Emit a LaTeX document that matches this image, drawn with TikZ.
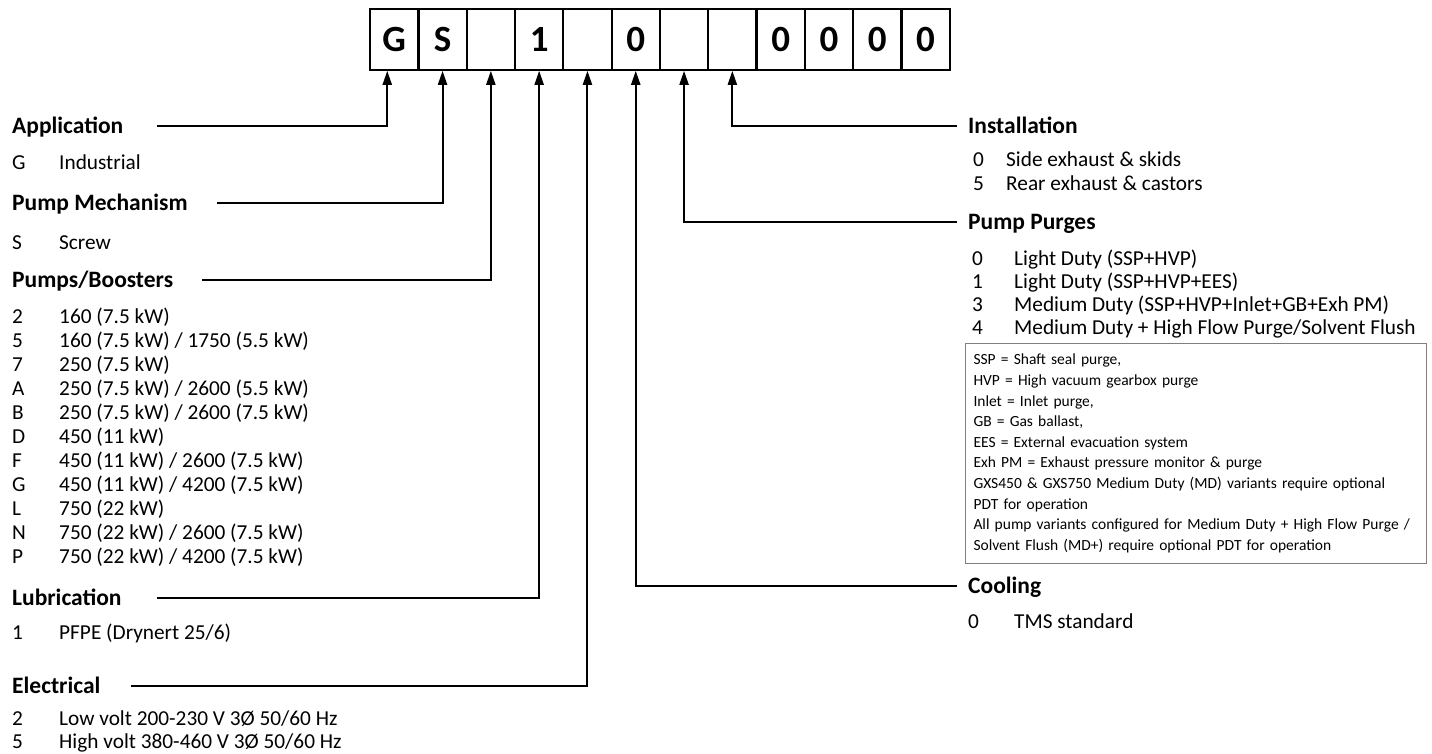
\documentclass[tikz,border=0pt]{standalone}
\usepackage{fontspec}
\setmainfont{Carlito}
\usetikzlibrary{arrows.meta,calc}
\begin{document}
\begin{tikzpicture}[x=1pt,y=-1pt,
  cell/.style={draw, line width=2.2pt, minimum width=48.3pt, minimum height=61pt, inner sep=0pt,
    font=\fontsize{37}{42}\selectfont\bfseries, anchor=north west},
  head/.style={anchor=west, inner sep=0pt, text height=15.1pt, text depth=0pt,
    font=\fontsize{23.5}{28}\selectfont\bfseries},
  item/.style={anchor=west, inner sep=0pt, text height=13.7pt, text depth=0pt,
    font=\fontsize{21.3}{25}\selectfont},
  conn/.style={line width=2pt, -{Triangle[length=14pt,width=9pt]}},
  notebox/.style={draw=black!50, line width=1pt, anchor=north west, minimum width=461pt,
    minimum height=220pt, text width=445pt, inner xsep=8pt, align=left,
    font=\fontsize{15.5}{20.6}\selectfont}
]
\useasboundingbox (0,0) rectangle (1432,754);

% code cells
\node[cell] (c1) at (369.0,7.6) {G};
\node[cell] (c2) at (417.3,7.6) {S};
\node[cell] (c3) at (465.6,7.6) {};
\node[cell] (c4) at (513.9,7.6) {1};
\node[cell] (c5) at (562.2,7.6) {};
\node[cell] (c6) at (610.5,7.6) {0};
\node[cell] (c7) at (658.8,7.6) {};
\node[cell] (c8) at (707.1,7.6) {};
\node[cell] (c9) at (755.4,7.6) {0};
\node[cell] (c10) at (803.7,7.6) {0};
\node[cell] (c11) at (852.0,7.6) {0};
\node[cell] (c12) at (900.3,7.6) {0};

% ---------- left column ----------
\node[head] (app) at (12,126) {Application};
\node[item] (appk1) at (12,163) {G};
\node[item] (appt1) at (59,163) {Industrial};

\node[head] (mech) at (12,203) {Pump Mechanism};
\node[item] (mechk1) at (12,243) {S};
\node[item] (mecht1) at (59,243) {Screw};

\node[head] (pumps) at (12,280) {Pumps/Boosters};
\node[item] (pk1) at (12,317) {2};  \node[item] (pt1) at (59,317) {160 (7.5 kW)};
\node[item] (pk2) at (12,341) {5};  \node[item] (pt2) at (59,341) {160 (7.5 kW) / 1750 (5.5 kW)};
\node[item] (pk3) at (12,365) {7};  \node[item] (pt3) at (59,365) {250 (7.5 kW)};
\node[item] (pk4) at (12,389) {A};  \node[item] (pt4) at (59,389) {250 (7.5 kW) / 2600 (5.5 kW)};
\node[item] (pk5) at (12,413) {B};  \node[item] (pt5) at (59,413) {250 (7.5 kW) / 2600 (7.5 kW)};
\node[item] (pk6) at (12,437) {D};  \node[item] (pt6) at (59,437) {450 (11 kW)};
\node[item] (pk7) at (12,461) {F};  \node[item] (pt7) at (59,461) {450 (11 kW) / 2600 (7.5 kW)};
\node[item] (pk8) at (12,485) {G};  \node[item] (pt8) at (59,485) {450 (11 kW) / 4200 (7.5 kW)};
\node[item] (pk9) at (12,509) {L};  \node[item] (pt9) at (59,509) {750 (22 kW)};
\node[item] (pk10) at (12,533) {N}; \node[item] (pt10) at (59,533) {750 (22 kW) / 2600 (7.5 kW)};
\node[item] (pk11) at (12,557) {P}; \node[item] (pt11) at (59,557) {750 (22 kW) / 4200 (7.5 kW)};

\node[head] (lub) at (12,598) {Lubrication};
\node[item] (lubk1) at (12,633) {1};
\node[item] (lubt1) at (59,633) {PFPE (Drynert 25/6)};

\node[head] (elec) at (12,686) {Electrical};
\node[item] (eleck1) at (12,719) {2};
\node[item] (elect1) at (59,719) {Low volt 200-230 V 3Ø 50/60 Hz};
\node[item] (eleck2) at (12,742) {5};
\node[item] (elect2) at (59,742) {High volt 380-460 V 3Ø 50/60 Hz};

% ---------- right column ----------
\node[head] (inst) at (968,126) {Installation};
\node[item] (instk1) at (973,160) {0};
\node[item] (instt1) at (1006,160) {Side exhaust \& skids};
\node[item] (instk2) at (973,184) {5};
\node[item] (instt2) at (1006,184) {Rear exhaust \& castors};

\node[head] (purge) at (968,222) {Pump Purges};
\node[item] (pgk1) at (972,259) {0}; \node[item] (pgt1) at (1014,259) {Light Duty (SSP+HVP)};
\node[item] (pgk2) at (972,282) {1}; \node[item] (pgt2) at (1014,282) {Light Duty (SSP+HVP+EES)};
\node[item] (pgk3) at (972,305) {3}; \node[item] (pgt3) at (1014,305) {Medium Duty (SSP+HVP+Inlet+GB+Exh PM)};
\node[item] (pgk4) at (972,328) {4}; \node[item] (pgt4) at (1014,328) {Medium Duty + High Flow Purge/Solvent Flush};

\node[notebox] (note) at (965,343) {SSP = Shaft seal purge,\\
HVP = High vacuum gearbox purge\\
Inlet = Inlet purge,\\
GB = Gas ballast,\\
EES = External evacuation system\\
Exh PM = Exhaust pressure monitor \& purge\\
GXS450 \& GXS750 Medium Duty (MD) variants require optional\\
PDT for operation\\
All pump variants configured for Medium Duty + High Flow Purge /\\
Solvent Flush (MD+) require optional PDT for operation};

\node[head] (cool) at (968,586) {Cooling};
\node[item] (coolk1) at (968,622) {0};
\node[item] (coolt1) at (1014,622) {TMS standard};

% ---------- connector start points ----------
\coordinate (appL) at (157,126);
\coordinate (mechL) at (217,203);
\coordinate (pumpsL) at (202,280);
\coordinate (lubL) at (157,598);
\coordinate (elecL) at (131,686);
\coordinate (instR) at (957,126);
\coordinate (purgeR) at (957,222);
\coordinate (coolR) at (957,586);

% ---------- connectors ----------
\draw[conn] (appL) -| ([xshift=-7pt]c1.south);
\draw[conn] (mechL) -| (c2.south);
\draw[conn] (pumpsL) -| (c3.south);
\draw[conn] (lubL) -| (c4.south);
\draw[conn] (elecL) -| (c5.south);
\draw[conn] (coolR) -| (c6.south);
\draw[conn] (purgeR) -| (c7.south);
\draw[conn] (instR) -| (c8.south);
\end{tikzpicture}
\end{document}
